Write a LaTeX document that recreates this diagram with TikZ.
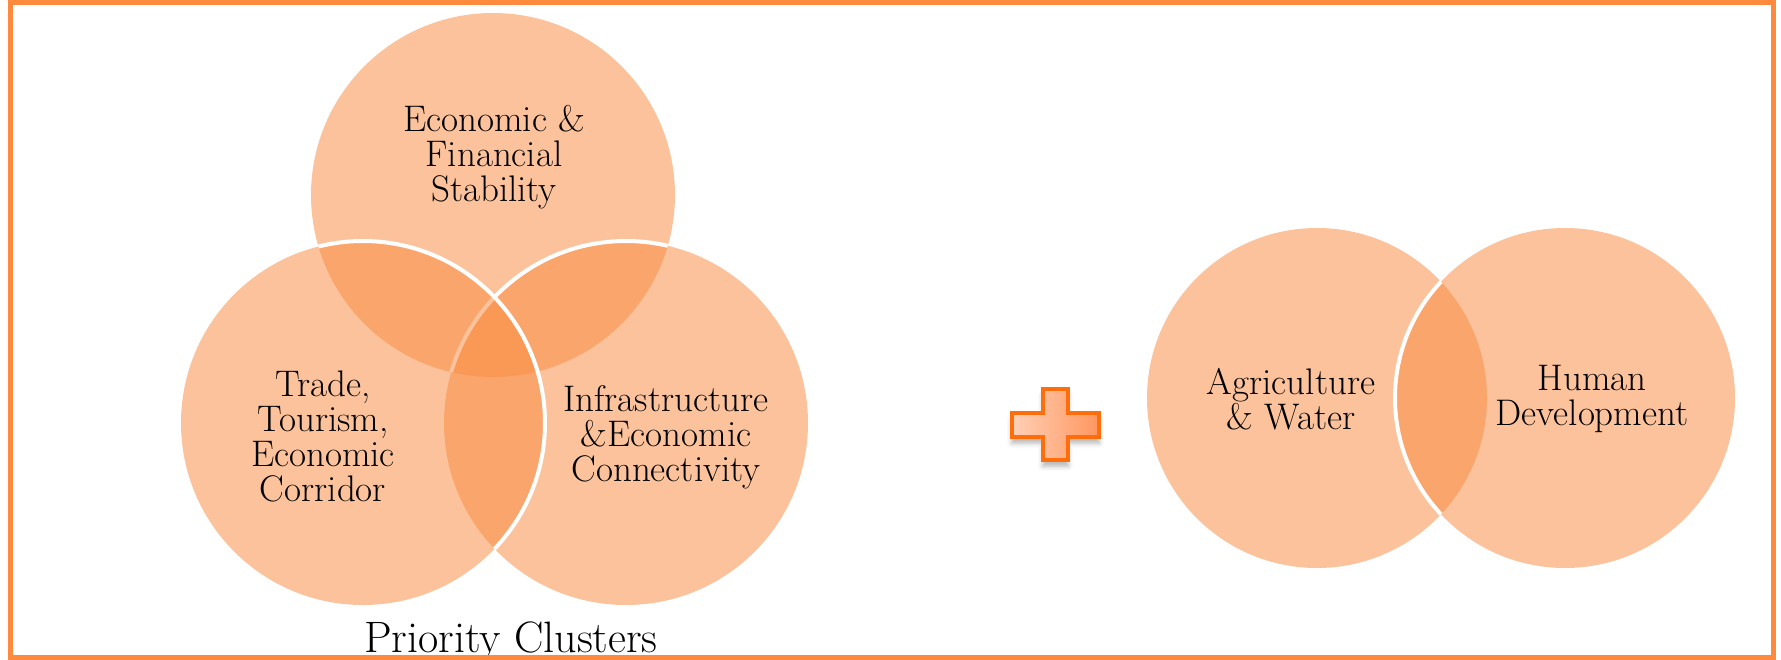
\documentclass[tikz,border=0pt]{standalone}
\usepackage{tikz}
\usetikzlibrary{shadows.blur, calc, positioning}
\definecolor{vennorange}{RGB}{249,139,64}
\definecolor{frameorange}{RGB}{255,138,61}
\definecolor{plusedge}{RGB}{255,110,10}
\definecolor{pluslight}{RGB}{255,208,182}
\definecolor{plusdark}{RGB}{255,150,95}

\begin{document}
\begin{tikzpicture}[x=1pt,y=-1pt,
	bubble/.style={fill=vennorange,fill opacity=0.52},
	rim/.style={white,line width=4pt},
	label/.style={align=center,font=\fontsize{37}{35}\selectfont}]
			\useasboundingbox (0,0) rectangle (1781,659);
			% priority clusters
			\fill[bubble](493,195) circle[radius=182];
			\fill[bubble](626,423) circle[radius=182];
			\begin{scope}
				\clip (493,195) circle[radius=182];
				\draw[rim](626,423) circle[radius=182];
			\end{scope}
			\fill[bubble](363,423) circle[radius=182];
			\begin{scope}
				\clip (493,195) circle[radius=182] (626,423) circle[radius=182];
				\draw[rim](363,423) circle[radius=182];
			\end{scope}
			\node[label] (econ) at (494,157) {Economic \&\\Financial\\Stability};
			\node[label] (trade) at (323,436) {Trade,\\Tourism,\\Economic\\Corridor};
			\node[label] (infra) at (666,437) {Infrastructure\\\&Economic\\Connectivity};
			\node[font=\fontsize{44}{46}\selectfont,anchor=base] (title) at (511,652) {Priority Clusters};
			% plus sign
			\draw[plusedge,line width=3.5pt,left color=pluslight,right color=plusdark,
				blur shadow={shadow xshift=0pt,shadow yshift=-6pt,shadow opacity=30,
					shadow blur radius=5pt,fill=black}]
				(1043,389)--(1068,389)--(1068,413)--(1099,413)--(1099,437)--(1068,437)
				--(1068,460)--(1043,460)--(1043,437)--(1012,437)--(1012,413)--(1043,413)--cycle;
			% second pair
			\fill[bubble](1317,398) circle[radius=170];
			\fill[bubble](1565,398) circle[radius=170];
			\begin{scope}
				\clip (1317,398) circle[radius=170];
				\draw[rim](1565,398) circle[radius=170];
			\end{scope}
			\node[label] (agri) at (1291,399) {Agriculture\\\& Water};
			\node[label] (human) at (1592,399) {Human\\Development};
			\draw[frameorange,line width=5pt](10,2.5) rectangle (1773,657);
		\end{tikzpicture}
\end{document}
